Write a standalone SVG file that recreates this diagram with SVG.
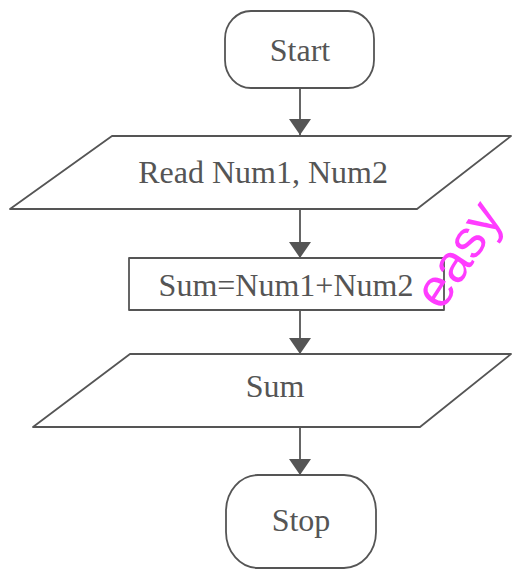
<svg xmlns="http://www.w3.org/2000/svg" width="512" height="570" viewBox="0 0 512 570">
  <style>
    .shape { fill: #ffffff; stroke: #555555; stroke-width: 1.8; stroke-linejoin: round; }
    .label { font-family: "Liberation Serif", "Times New Roman", serif; font-size: 32px; fill: #555555; text-anchor: middle; }
    .flow { stroke: #555555; stroke-width: 1.8; fill: none; marker-end: url(#head); }
    .mark { font-family: "Liberation Sans", Arial, sans-serif; font-size: 54px; fill: #ff3cff; }
  </style>
  <defs>
    <!-- solid triangular arrowhead, tip at the end of the line -->
    <marker id="head" viewBox="0 0 16 22" refX="16" refY="11" markerWidth="16" markerHeight="22" markerUnits="userSpaceOnUse" orient="auto">
      <path d="M0,0 L16,11 L0,22 Z" fill="#555555"/>
    </marker>
  </defs>
  <rect width="512" height="570" fill="#ffffff"/>

  <g id="connectors">
    <line class="flow" x1="300" y1="88" x2="300" y2="135"/>
    <line class="flow" x1="300" y1="209" x2="300" y2="258"/>
    <line class="flow" x1="300" y1="310" x2="300" y2="354"/>
    <line class="flow" x1="300" y1="427" x2="300" y2="475"/>
  </g>

  <g id="start">
    <rect class="shape" x="225" y="11" width="149" height="77" rx="26" ry="28"/>
    <text class="label" x="300" y="61">Start</text>
  </g>

  <g id="read">
    <polygon class="shape" points="112,136 511,136 417,209 10,209"/>
    <text class="label" x="263" y="183">Read Num1, Num2</text>
  </g>

  <g id="compute">
    <rect class="shape" x="129" y="258" width="315" height="52"/>
    <text class="label" x="286" y="296">Sum=Num1+Num2</text>
  </g>

  <g id="output">
    <polygon class="shape" points="130,354 511,354 420,427 33,427"/>
    <text class="label" x="275" y="397">Sum</text>
  </g>

  <g id="stop">
    <rect class="shape" x="226" y="475" width="150" height="93" rx="32" ry="36"/>
    <text class="label" x="301" y="531">Stop</text>
  </g>

  <text class="mark" transform="translate(442,312) rotate(-57)">easy</text>
</svg>
